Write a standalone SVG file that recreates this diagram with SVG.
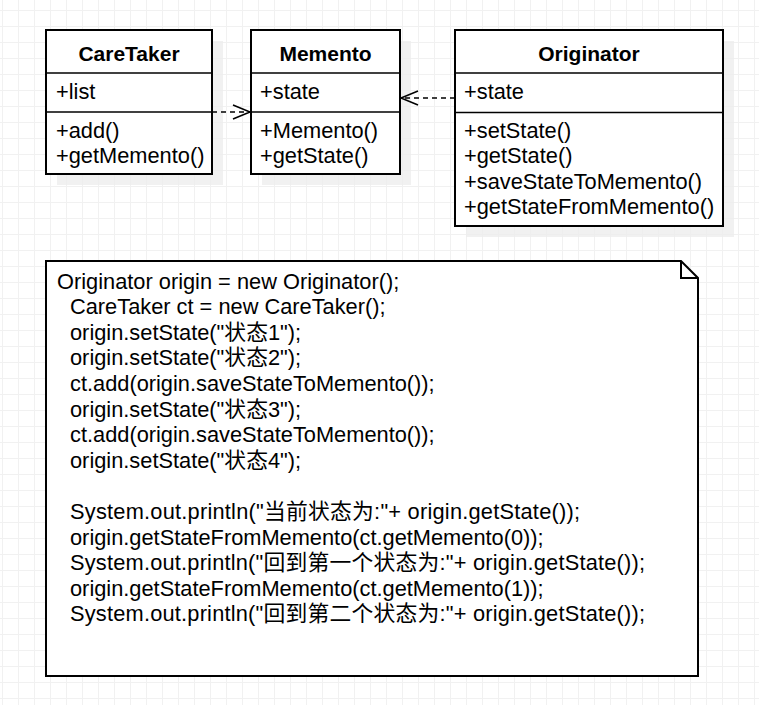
<svg xmlns="http://www.w3.org/2000/svg" width="759" height="705" viewBox="0 0 759 705">
<defs>
<pattern id="grid" x="2" y="10" width="16" height="16" patternUnits="userSpaceOnUse">
<path d="M0 0.5H16M0.5 0V16" fill="none" stroke="#f1f1f1" stroke-width="1"/>
</pattern>
<marker id="open" markerWidth="20" markerHeight="18" refX="18" refY="8" orient="auto" markerUnits="userSpaceOnUse">
<path d="M1 1 L18 8 L1 15" fill="none" stroke="#000" stroke-width="1.6"/>
</marker>
</defs>
<style>
.box{fill:#fff;stroke:#000;stroke-width:2}
.shadow{fill:#eeeeee;opacity:0.8}
.div{stroke:#000;stroke-width:1.5}
.title{font-family:"Liberation Sans",Arial,sans-serif;font-weight:bold;font-size:21px;text-anchor:middle;fill:#000}
.t{font-family:"Liberation Sans",Arial,sans-serif;font-size:21.8px;fill:#000}
.code{font-family:"Liberation Sans",Arial,"Noto Sans CJK SC",sans-serif;font-size:21.8px;fill:#000}
.dash{fill:none;stroke:#000;stroke-width:1.5;stroke-dasharray:5 4}
</style>
<rect width="759" height="705" fill="#fff"/>
<rect width="759" height="705" fill="url(#grid)"/>

<g id="CareTaker">
<rect class="shadow" x="57" y="41" width="166" height="144"/>
<rect class="box" x="46" y="30" width="166" height="144"/>
<line class="div" x1="46" y1="73" x2="212" y2="73"/>
<line class="div" x1="46" y1="112" x2="212" y2="112"/>
<text class="title" x="129" y="61">CareTaker</text>
<text class="t" x="56" y="99">+list</text>
<text class="t" x="56" y="137.5">+add()</text>
<text class="t" x="56" y="163">+getMemento()</text>
</g>

<g id="Memento">
<rect class="shadow" x="262" y="41" width="149" height="144"/>
<rect class="box" x="251" y="30" width="149" height="144"/>
<line class="div" x1="251" y1="73" x2="400" y2="73"/>
<line class="div" x1="251" y1="112" x2="400" y2="112"/>
<text class="title" x="325.5" y="61">Memento</text>
<text class="t" x="260" y="99">+state</text>
<text class="t" x="260" y="137.5">+Memento()</text>
<text class="t" x="260" y="163">+getState()</text>
</g>

<g id="Originator">
<rect class="shadow" x="466" y="41" width="268" height="196"/>
<rect class="box" x="455" y="30" width="268" height="196"/>
<line class="div" x1="455" y1="73" x2="723" y2="73"/>
<line class="div" x1="455" y1="112.5" x2="723" y2="112.5"/>
<text class="title" x="589" y="61">Originator</text>
<text class="t" x="464" y="99">+state</text>
<text class="t" x="464" y="137.5">+setState()</text>
<text class="t" x="464" y="163">+getState()</text>
<text class="t" x="464" y="188.5">+saveStateToMemento()</text>
<text class="t" x="464" y="214">+getStateFromMemento()</text>
</g>

<g id="connectors">
<line class="dash" x1="212" y1="112" x2="250" y2="112" marker-end="url(#open)"/>
<line class="dash" x1="455" y1="98" x2="401" y2="98" marker-end="url(#open)"/>
</g>

<g id="note">
<path class="box" d="M46 261 H681 L698 278 V676 H46 Z"/>
<path d="M681 261 V278 H698" fill="none" stroke="#000" stroke-width="2"/>
<text class="code" x="57" y="288.5">Originator origin = new Originator();</text>
<text class="code" x="70" y="314.1">CareTaker ct = new CareTaker();</text>
<text class="code" x="70" y="339.7">origin.setState("状态1");</text>
<text class="code" x="70" y="365.3">origin.setState("状态2");</text>
<text class="code" x="70" y="390.9">ct.add(origin.saveStateToMemento());</text>
<text class="code" x="70" y="416.5">origin.setState("状态3");</text>
<text class="code" x="70" y="442.1">ct.add(origin.saveStateToMemento());</text>
<text class="code" x="70" y="467.7">origin.setState("状态4");</text>
<text class="code" x="70" y="518.9" textLength="510" lengthAdjust="spacing">System.out.println("当前状态为:"+ origin.getState());</text>
<text class="code" x="70" y="544.5">origin.getStateFromMemento(ct.getMemento(0));</text>
<text class="code" x="70" y="570.1" textLength="575" lengthAdjust="spacing">System.out.println("回到第一个状态为:"+ origin.getState());</text>
<text class="code" x="70" y="595.7">origin.getStateFromMemento(ct.getMemento(1));</text>
<text class="code" x="70" y="621.3" textLength="575" lengthAdjust="spacing">System.out.println("回到第二个状态为:"+ origin.getState());</text>
</g>
</svg>
